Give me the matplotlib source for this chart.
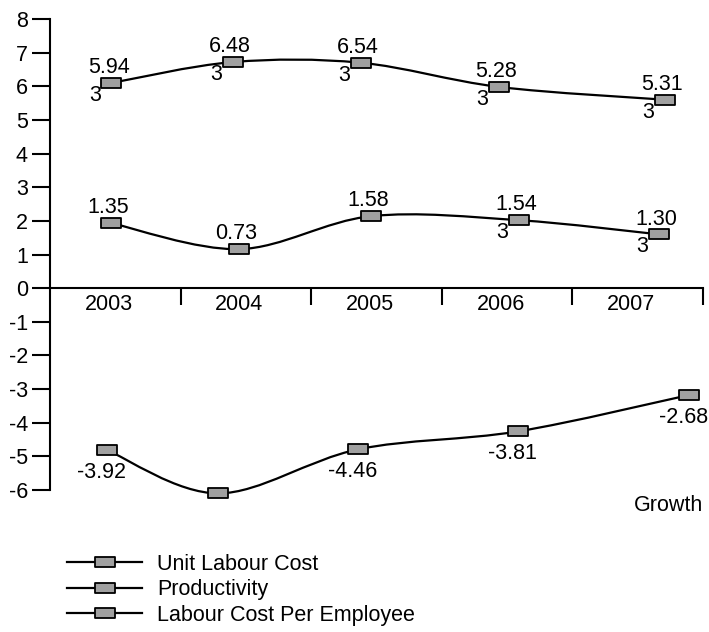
import numpy as np
import matplotlib
matplotlib.use("Agg")
import matplotlib.pyplot as plt
from matplotlib.path import Path
from matplotlib.patches import PathPatch
from matplotlib.lines import Line2D

plt.rcParams['font.family'] = ['Liberation Sans', 'DejaVu Sans']
plt.rcParams['axes.unicode_minus'] = False

years = ['2003', '2004', '2005', '2006', '2007']

# marker positions (x in category units, 0..5)
ulc_x = [0.47, 1.40, 2.38, 3.44, 4.71]
ulc_y = [6.10, 6.72, 6.70, 5.98, 5.60]
ulc_labels = ['5.94', '6.48', '6.54', '5.28', '5.31']
ulc_three = [True, True, True, True, True]

prod_x = [0.47, 1.45, 2.46, 3.59, 4.66]
prod_y = [1.93, 1.16, 2.14, 2.02, 1.60]
prod_labels = ['1.35', '0.73', '1.58', '1.54', '1.30']
prod_three = [False, False, False, True, True]

lcpe_x = [0.44, 1.29, 2.36, 3.58, 4.89]
lcpe_y = [-4.82, -6.10, -4.79, -4.26, -3.18]
lcpe_labels = ['-3.92', '-5.69', '-4.46', '-3.81', '-2.68']

series_names = ['Unit Labour Cost', 'Productivity', 'Labour Cost Per Employee']

FS = 15.5
rect = Path([(-1, -0.5), (1, -0.5), (1, 0.5), (-1, 0.5), (-1, -0.5)],
            [Path.MOVETO, Path.LINETO, Path.LINETO, Path.LINETO, Path.CLOSEPOLY])
mstyle = dict(marker=rect, markersize=14.5, markerfacecolor='#a0a0a0',
              markeredgecolor='black', markeredgewidth=1.3)


def smooth_path(xs, ys):
    # catmull-rom through the points, drawn as cubic bezier segments
    p = np.column_stack([xs, ys])
    verts = [p[0]]
    codes = [Path.MOVETO]
    for i in range(len(p) - 1):
        p0 = p[i - 1] if i > 0 else p[i]
        p3 = p[i + 2] if i + 2 < len(p) else p[i + 1]
        c1 = p[i] + (p[i + 1] - p0) / 6
        c2 = p[i + 1] - (p3 - p[i]) / 6
        verts += [c1, c2, p[i + 1]]
        codes += [Path.CURVE4] * 3
    return Path(verts, codes)


fig = plt.figure(figsize=(7.09, 6.32), dpi=100)
ax = fig.add_axes([50 / 709, 1 - 490 / 632, 653 / 709, 471 / 632])
ax.set_xlim(0, 5)
ax.set_ylim(-6, 8)

for xs, ys in [(ulc_x, ulc_y), (prod_x, prod_y), (lcpe_x, lcpe_y)]:
    ax.add_patch(PathPatch(smooth_path(xs, ys), fill=False, lw=1.6,
                           edgecolor='black', clip_on=False, zorder=2))
    ax.plot(xs, ys, linestyle='none', clip_on=False, zorder=3, **mstyle)

for xs, ys, labs, threes in [(ulc_x, ulc_y, ulc_labels, ulc_three),
                             (prod_x, prod_y, prod_labels, prod_three)]:
    for x, y, lab, th in zip(xs, ys, labs, threes):
        ax.annotate(lab, (x, y), xytext=(-2, 11), textcoords='offset points',
                    ha='center', va='center', fontsize=FS)
        if th:
            ax.annotate('3', (x, y), xytext=(-12, -9), textcoords='offset points',
                        ha='center', va='center', fontsize=FS)

for x, y, lab in zip(lcpe_x, lcpe_y, lcpe_labels):
    ax.annotate(lab, (x, y), xytext=(-4, -16), textcoords='offset points',
                ha='center', va='center', fontsize=FS)

for i, yr in enumerate(years):
    ax.text(i + 0.45, -0.5, yr, ha='center', va='center', fontsize=FS)

ax.text(5, -6.46, 'Growth', ha='right', va='center', fontsize=FS)

ax.spines['top'].set_visible(False)
ax.spines['right'].set_visible(False)
ax.spines['bottom'].set_position(('data', 0))
ax.spines['left'].set_linewidth(1.5)
ax.spines['bottom'].set_linewidth(1.5)

ax.set_yticks(range(-6, 9))
ax.set_yticklabels([str(v) for v in range(-6, 9)], fontsize=FS)
ax.tick_params(axis='y', direction='out', length=13, width=1.5, pad=3)
ax.set_xticks([1, 2, 3, 4, 5])
ax.set_xticklabels([])
ax.tick_params(axis='x', direction='out', length=12, width=1.5)

handles = [Line2D([], [], color='black', lw=1.6, **mstyle) for _ in series_names]
fig.legend(handles, series_names, loc='upper left',
           bbox_to_anchor=(67 / 709, 1 - 554 / 632), frameon=False,
           fontsize=FS, handlelength=3.5, handletextpad=0.7,
           labelspacing=0.2, borderpad=0, borderaxespad=0, numpoints=1)

fig.savefig('out.png', dpi=100)
